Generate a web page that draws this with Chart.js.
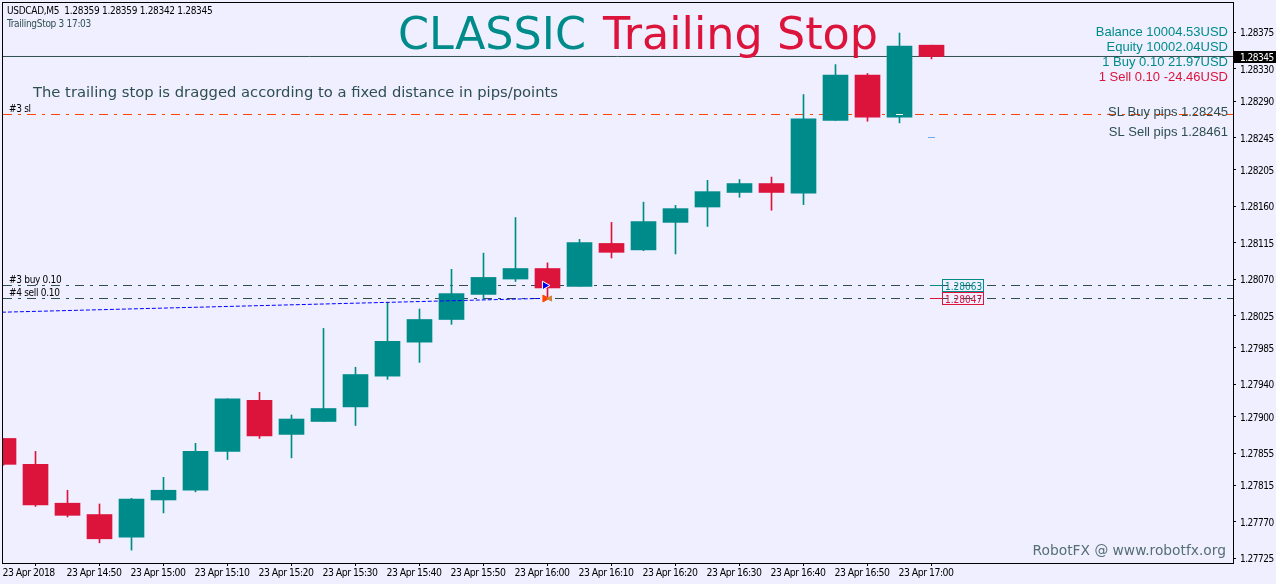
<!DOCTYPE html>
<html>
<head>
<meta charset="utf-8">
<title>USDCAD M5 Trailing Stop</title>
<script src="https://cdn.jsdelivr.net/npm/chart.js@4/dist/chart.umd.min.js"></script>
<style>
    html, body { margin: 0; padding: 0; background: #efefff; overflow: hidden; }
    canvas { display: block; }
</style>
</head>
<body>
<canvas id="chart" width="1276" height="584"></canvas>
<script>
const opens  = [1.27873, 1.27841, 1.27793, 1.27779, 1.27751, 1.27797, 1.27809, 1.27857, 1.27920, 1.27878,
                1.27894, 1.27912, 1.27950, 1.27992, 1.28020, 1.28051, 1.28070, 1.28083, 1.28061, 1.28114,
                1.28106, 1.28140, 1.28159, 1.28177, 1.28188, 1.28176, 1.28266, 1.28322, 1.28270, 1.28359];
const closes = [1.27841, 1.27791, 1.27778, 1.27749, 1.27798, 1.27809, 1.27857, 1.27922, 1.27876, 1.27897,
                1.27910, 1.27952, 1.27993, 1.28020, 1.28052, 1.28072, 1.28083, 1.28059, 1.28115, 1.28103,
                1.28141, 1.28157, 1.28178, 1.28188, 1.28177, 1.28268, 1.28322, 1.28270, 1.28358, 1.28345];
const highs  = [1.27873, 1.27857, 1.27809, 1.27792, 1.27799, 1.27825, 1.27867, 1.27922, 1.27930, 1.27902,
                1.28009, 1.27961, 1.28041, 1.28033, 1.28082, 1.28102, 1.28146, 1.28090, 1.28119, 1.28140,
                1.28165, 1.28161, 1.28192, 1.28193, 1.28196, 1.28298, 1.28335, 1.28324, 1.28374, 1.28359];
const lows   = [1.27840, 1.27789, 1.27776, 1.27744, 1.27735, 1.27781, 1.27807, 1.27847, 1.27873, 1.27849,
                1.27894, 1.27889, 1.27946, 1.27967, 1.28014, 1.28045, 1.28067, 1.28046, 1.28061, 1.28096,
                1.28105, 1.28101, 1.28135, 1.28171, 1.28155, 1.28162, 1.28266, 1.28265, 1.28263, 1.28342];

const timeLabels = ["23 Apr 2018", "23 Apr 14:50", "23 Apr 15:00", "23 Apr 15:10", "23 Apr 15:20",
                    "23 Apr 15:30", "23 Apr 15:40", "23 Apr 15:50", "23 Apr 16:00", "23 Apr 16:10",
                    "23 Apr 16:20", "23 Apr 16:30", "23 Apr 16:40", "23 Apr 16:50", "23 Apr 17:00"];
const priceTicks = [1.28375, 1.28330, 1.28290, 1.28245, 1.28205, 1.28160, 1.28115, 1.28070,
                    1.28025, 1.27985, 1.27940, 1.27900, 1.27855, 1.27815, 1.27770, 1.27725];

// order lines
const currentPrice = 1.28345;
const buyPrice = 1.2806201;
const sellPrice = 1.2804595;
const stopPrice = 1.2827333;
const closeMarkPrice = 1.2824490;

// blue trade line, bar index / price
const tradeLineX = [-0.05, 16.77];
const tradeLineY = [1.28029, 1.28046];

const infoLines = ["Balance 10004.53USD", "Equity 10002.04USD", "1 Buy 0.10 21.97USD", "1 Sell 0.10 -24.46USD"];
const slLines = ["SL Buy pips 1.28245", "SL Sell pips 1.28461"];
const boxLabels = ["1.28063", "1.28047"];

const TEAL = "#008b8b";
const RED = "#dc143c";
const SLATE = "#2f4f4f";
const SMALL_FAMILY = "'DejaVu Sans Condensed', 'DejaVu Sans', sans-serif";
const SMALL_FONT = "10px " + SMALL_FAMILY;
const DASH_DOT = [9, 6, 3, 6];

const xMin = -0.046875;
const xMax = 38.421875;
const yMax = 1.28412347;
const yMin = 1.27719100;

const candleColors = closes.map((c, i) => (c >= opens[i] ? TEAL : RED));

function hLine(value, color, dash, order) {
    return {
        type: "line",
        data: [{ x: xMin, y: value }, { x: xMax, y: value }],
        borderColor: color,
        borderWidth: 1,
        borderDash: dash,
        borderDashOffset: 23,
        pointRadius: 0,
        order: order,
    };
}

function marker(x, y, style, rotation, size, fill, stroke, order) {
    return {
        type: "line",
        data: [{ x: x, y: y }],
        showLine: false,
        pointStyle: style,
        rotation: rotation,
        pointRadius: size,
        backgroundColor: fill,
        borderColor: stroke,
        pointBorderWidth: 1,
        order: order,
    };
}

function text(ctx, str, x, y, font, color, align, spacing) {
    ctx.font = font;
    ctx.fillStyle = color;
    ctx.textAlign = align || "left";
    ctx.textBaseline = "alphabetic";
    ctx.letterSpacing = spacing || "0px";
    ctx.fillText(str, x, y);
    ctx.letterSpacing = "-0.5px";
}

// frame, labels and order boxes on top of the series
const overlay = {
    id: "overlay",
    beforeDraw(chart) {
        // axis labels are tighter than the condensed face
        chart.ctx.letterSpacing = "-0.5px";
    },
    afterDraw(chart) {
        const ctx = chart.ctx;
        const area = chart.chartArea;
        ctx.save();
        ctx.strokeStyle = "#000";
        ctx.lineWidth = 1;
        ctx.strokeRect(area.left + 0.5, area.top + 0.5, area.right - area.left, area.bottom - area.top);

        text(ctx, "USDCAD,M5  1.28359 1.28359 1.28342 1.28345", 7, 14, SMALL_FONT, "#000", "left", "-0.3px");
        text(ctx, "TrailingStop 3 17:03", 7, 27, SMALL_FONT, SLATE, "left", "-0.3px");
        text(ctx, "#3 sl", 9, 112, SMALL_FONT, "#000", "left", "-0.3px");
        text(ctx, "#3 buy 0.10", 9, 283, SMALL_FONT, "#000", "left", "-0.3px");
        text(ctx, "#4 sell 0.10", 9, 296, SMALL_FONT, "#000", "left", "-0.3px");

        const titleFont = "44.5px 'DejaVu Sans', sans-serif";
        text(ctx, "CLASSIC", 398, 49, titleFont, TEAL);
        text(ctx, "Trailing Stop", 603, 49, titleFont, RED);

        text(ctx, "The trailing stop is dragged according to a fixed distance in pips/points", 33, 97, "14.75px 'DejaVu Sans', sans-serif", SLATE);

        const infoFont = "13px 'Liberation Sans', sans-serif";
        text(ctx, infoLines[0], 1228, 36, infoFont, TEAL, "right");
        text(ctx, infoLines[1], 1228, 51, infoFont, TEAL, "right");
        text(ctx, infoLines[2], 1228, 66, infoFont, TEAL, "right");
        text(ctx, infoLines[3], 1228, 81, infoFont, RED, "right");
        text(ctx, slLines[0], 1228, 116, infoFont, SLATE, "right");
        text(ctx, slLines[1], 1228, 136, infoFont, SLATE, "right");

        text(ctx, "RobotFX @ www.robotfx.org", 1226, 555, "13.8px 'DejaVu Sans', sans-serif", "#566e75", "right");

        // order price boxes
        ctx.strokeStyle = TEAL;
        ctx.strokeRect(942.5, 279.5, 41, 12);
        ctx.strokeStyle = RED;
        ctx.strokeRect(942.5, 292.5, 41, 12);
        text(ctx, boxLabels[0], 945, 290, SMALL_FONT, TEAL);
        text(ctx, boxLabels[1], 945, 303, SMALL_FONT, RED);

        // current price tag on the axis
        const tagY = chart.scales.y.getPixelForValue(currentPrice);
        ctx.fillStyle = "#000";
        ctx.fillRect(area.right + 1, Math.floor(tagY) - 5, 42, 12);
        text(ctx, currentPrice.toFixed(5), 1240, Math.floor(tagY) + 5, SMALL_FONT, "#fff", "left", "-0.5px");
        ctx.restore();
    },
};

new Chart(document.getElementById("chart"), {
    type: "bar",
    data: {
        datasets: [
            {
                label: "Wicks",
                data: highs.map((h, i) => ({ x: i, y: [lows[i], h] })),
                backgroundColor: candleColors,
                barThickness: 1,
                grouped: false,
                order: 6,
            },
            {
                label: "Bodies",
                data: opens.map((o, i) => ({ x: i, y: [o, closes[i]] })),
                backgroundColor: candleColors,
                barThickness: 25,
                grouped: false,
                order: 5,
            },
            hLine(currentPrice, SLATE, [], 7),
            hLine(stopPrice, "#ff4500", DASH_DOT, 7),
            hLine(buyPrice, SLATE, DASH_DOT, 7),
            hLine(sellPrice, SLATE, DASH_DOT, 7),
            {
                type: "line",
                data: [{ x: 28.95, y: buyPrice }, { x: 29.36, y: buyPrice }],
                borderColor: TEAL,
                borderWidth: 1,
                pointRadius: 0,
                order: 4,
            },
            {
                type: "line",
                data: [{ x: 28.95, y: sellPrice }, { x: 29.36, y: sellPrice }],
                borderColor: RED,
                borderWidth: 1,
                pointRadius: 0,
                order: 4,
            },
            {
                type: "line",
                data: tradeLineX.map((x, i) => ({ x: x, y: tradeLineY[i] })),
                borderColor: "#0000ff",
                borderWidth: 1,
                borderDash: [4, 2],
                pointRadius: 0,
                order: 2,
            },
            marker(16.92, buyPrice, "triangle", 90, 5, "#0000ff", "#ffffff", 1),
            marker(16.92, sellPrice, "triangle", 90, 4, "#ff4500", "#ff4500", 1),
            marker(17.08, sellPrice, "triangle", -90, 3, "#cd853f", "#cd853f", 0),
            marker(28, stopPrice, "line", 0, 3.5, "#ffffff", "#ffffff", 1),
            marker(29, closeMarkPrice, "line", 0, 3.5, "#6aaef0", "#6aaef0", 1),
        ],
    },
    options: {
        responsive: false,
        animation: false,
        events: [],
        layout: { autoPadding: false, padding: { left: 2, top: 2, right: 0, bottom: 0 } },
        plugins: { legend: { display: false }, tooltip: { enabled: false } },
        scales: {
            x: {
                type: "linear",
                offset: false,
                min: xMin,
                max: xMax,
                afterBuildTicks: (scale) => {
                    scale.ticks = timeLabels.map((label, i) => ({ value: i * 2 }));
                },
                afterFit: (scale) => {
                    scale.height = 21;
                    scale.paddingLeft = 0;
                    scale.paddingRight = 0;
                },
                grid: { drawOnChartArea: false, tickLength: 3, tickColor: "#000" },
                border: { color: "#000" },
                ticks: {
                    autoSkip: false,
                    maxRotation: 0,
                    align: "start",
                    padding: 1,
                    labelOffset: -1,
                    color: "#000",
                    font: { family: SMALL_FAMILY, size: 10.4 },
                    callback: (value) => timeLabels[value / 2],
                },
            },
            y: {
                position: "right",
                min: yMin,
                max: yMax,
                afterBuildTicks: (scale) => {
                    scale.ticks = priceTicks.map((p) => ({ value: p }));
                },
                afterFit: (scale) => {
                    scale.width = 43;
                    scale.paddingTop = 0;
                    scale.paddingBottom = 0;
                },
                grid: { drawOnChartArea: false, tickLength: 3, tickColor: "#000" },
                border: { color: "#000" },
                ticks: {
                    autoSkip: false,
                    padding: 4,
                    labelOffset: 1.5,
                    color: "#000",
                    font: { family: SMALL_FAMILY, size: 10 },
                    callback: (value) => value.toFixed(5),
                },
            },
        },
    },
    plugins: [overlay],
});
</script>
</body>
</html>
